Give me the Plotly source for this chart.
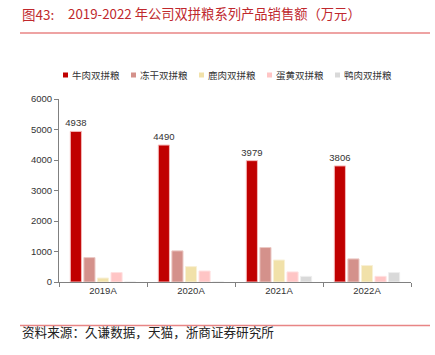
import plotly.graph_objects as go

years = ["2019A", "2020A", "2021A", "2022A"]
series_names = ["牛肉双拼粮", "冻干双拼粮", "鹿肉双拼粮", "蛋黄双拼粮", "鸭肉双拼粮"]
beef = [4938, 4490, 3979, 3806]
freeze_dried = [800, 1020, 1130, 757]
venison = [130, 505, 720, 540]
egg_yolk = [310, 360, 330, 185]
duck = [0, 0, 185, 310]
colors = ["#C00000", "#D4918B", "#F1E1A9", "#FFC5C5", "#D9D9D9"]
edge_colors = ["#F4B8B8", "#EBC8C4", "#F8F0D6", "#FFE0E0", "#EEEEEE"]
y_ticks = [0, 1000, 2000, 3000, 4000, 5000, 6000]

values = [beef, freeze_dried, venison, egg_yolk, duck]

L, R, T, B = 59, 24, 99, 73
W, H = 435, 355
PW, PH = W - L - R, H - T - B


def px(x):
    return (x - L) / PW


def py(y):
    return (H - B - y) / PH


fig = go.Figure()
for i, (name, vals) in enumerate(zip(series_names, values)):
    fig.add_trace(go.Bar(
        x=years, y=vals, name=name, showlegend=False,
        marker=dict(color=colors[i], line=dict(color=edge_colors[i], width=1)),
        text=[str(v) for v in vals] if i == 0 else None,
        textposition="outside" if i == 0 else None,
        constraintext="none",
        textfont=dict(family="Liberation Sans, Arial", size=9.5, color="#333333"),
        cliponaxis=False,
        hoverinfo="skip",
    ))

fig.update_layout(
    width=W, height=H,
    margin=dict(l=L, r=R, t=T, b=B),
    paper_bgcolor="white", plot_bgcolor="white",
    barmode="group", bargap=0.23, bargroupgap=0.18,
    showlegend=False,
    font=dict(family="Liberation Sans, Arial", size=9, color="#333333"),
)
fig.update_xaxes(
    showline=True, linecolor="#808080", linewidth=1,
    ticks="outside", tickson="boundaries", ticklen=4, tickcolor="#808080",
    tickfont=dict(family="Liberation Sans, Arial", size=9.5, color="#333333"),
    showgrid=False,
)
fig.update_yaxes(
    range=[0, 6000], tickvals=y_ticks, showgrid=False, zeroline=False,
    showline=True, linecolor="#808080", linewidth=1,
    ticks="outside", ticklen=4, tickcolor="#808080",
    tickfont=dict(family="Liberation Sans, Arial", size=9.5, color="#333333"),
)

# manual legend: small squares + labels
legend_x = [63, 131, 199, 267, 335]
legend_y = 75
for i, name in enumerate(series_names):
    x0 = legend_x[i]
    fig.add_shape(type="rect", xref="paper", yref="paper",
                  x0=px(x0), x1=px(x0 + 5), y0=py(legend_y + 2.5), y1=py(legend_y - 2.5),
                  line=dict(width=0), fillcolor=colors[i])
    fig.add_annotation(text=name, xref="paper", yref="paper",
                       x=px(x0 + 7), y=py(legend_y), xanchor="left", yanchor="middle",
                       showarrow=False,
                       font=dict(family="Noto Sans CJK SC", size=9.5, color="#333333"))

fig.add_annotation(
    text="图43:",
    xref="paper", yref="paper", x=px(20), y=py(14),
    xanchor="left", yanchor="middle", showarrow=False,
    font=dict(family="Noto Sans CJK SC", size=13.5, color="#C0282D"),
)
fig.add_annotation(
    text="2019-2022 年公司双拼粮系列产品销售额（万元）",
    xref="paper", yref="paper", x=px(66), y=py(14),
    xanchor="left", yanchor="middle", showarrow=False,
    font=dict(family="Noto Sans CJK SC", size=13.3, color="#C0282D"),
)
fig.add_shape(type="line", xref="paper", yref="paper",
              x0=px(20), x1=px(430), y0=py(33), y1=py(33),
              line=dict(color="#E88585", width=1.5))
fig.add_shape(type="line", xref="paper", yref="paper",
              x0=px(20), x1=px(430), y0=py(325.5), y1=py(325.5),
              line=dict(color="#E88585", width=1.5))
fig.add_annotation(
    text="资料来源：久谦数据，天猫，浙商证券研究所",
    xref="paper", yref="paper", x=px(20), y=py(331),
    xanchor="left", yanchor="middle", showarrow=False,
    font=dict(family="Noto Sans CJK SC", size=12.6, color="#222222"),
)

fig.write_html(
    "out.html",
    config={"displayModeBar": False, "staticPlot": True},
    post_script="document.body.style.margin='0';document.body.style.overflow='hidden';",
)
